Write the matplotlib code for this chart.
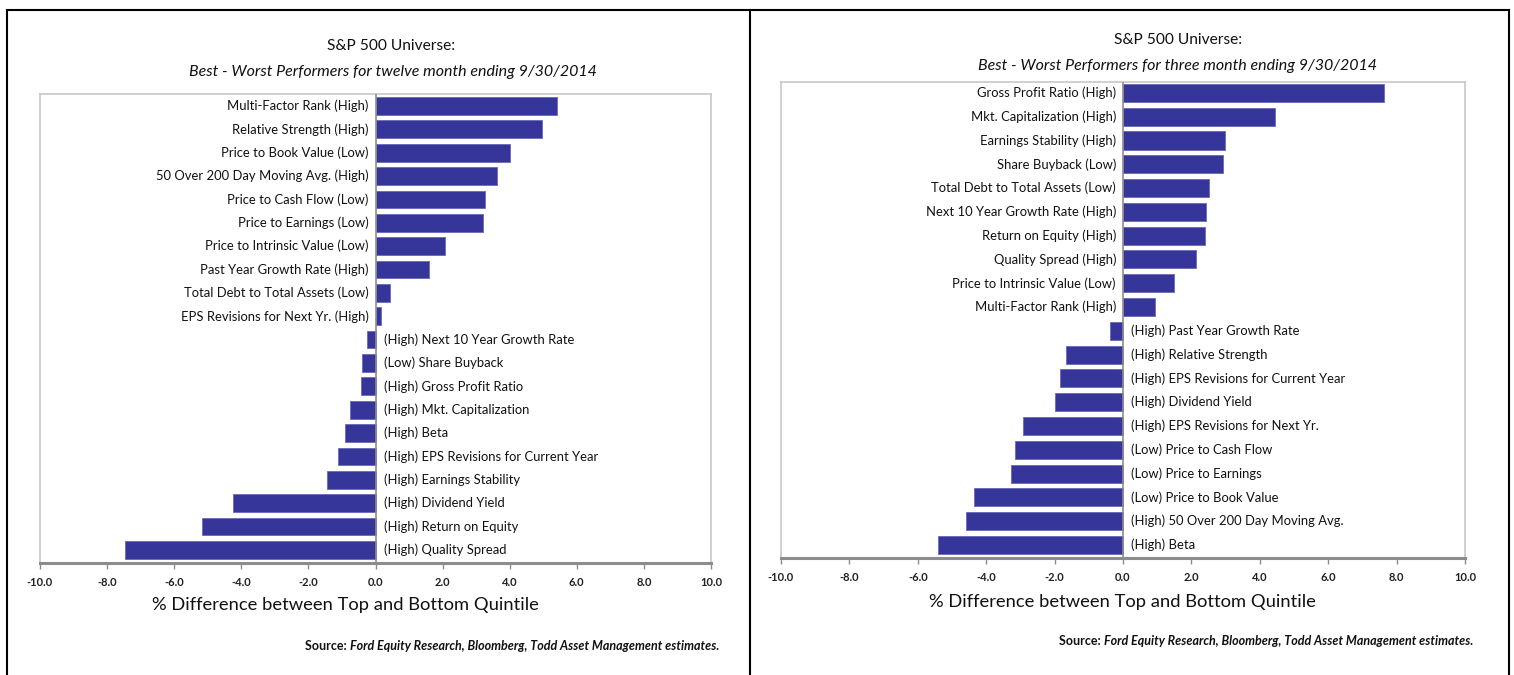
import matplotlib
matplotlib.use('Agg')
import matplotlib.pyplot as plt
import matplotlib.transforms as mtransforms
from matplotlib.lines import Line2D
import numpy as np

plt.rcParams['font.family'] = ['Lato', 'DejaVu Sans']

# twelve month ending 9/30/2014 (top to bottom)
names12 = ['Multi-Factor Rank', 'Relative Strength', 'Price to Book Value',
           '50 Over 200 Day Moving Avg.', 'Price to Cash Flow', 'Price to Earnings',
           'Price to Intrinsic Value', 'Past Year Growth Rate', 'Total Debt to Total Assets',
           'EPS Revisions for Next Yr.', 'Next 10 Year Growth Rate', 'Share Buyback',
           'Gross Profit Ratio', 'Mkt. Capitalization', 'Beta',
           'EPS Revisions for Current Year', 'Earnings Stability', 'Dividend Yield',
           'Return on Equity', 'Quality Spread']
tags12 = ['High', 'High', 'Low', 'High', 'Low', 'Low', 'Low', 'High', 'Low', 'High',
          'High', 'Low', 'High', 'High', 'High', 'High', 'High', 'High', 'High', 'High']
values12 = [5.41, 4.97, 4.01, 3.63, 3.27, 3.19, 2.07, 1.58, 0.43, 0.16,
            -0.25, -0.39, -0.43, -0.75, -0.90, -1.12, -1.46, -4.26, -5.16, -7.47]

# three month ending 9/30/2014
names3 = ['Gross Profit Ratio', 'Mkt. Capitalization', 'Earnings Stability', 'Share Buyback',
          'Total Debt to Total Assets', 'Next 10 Year Growth Rate', 'Return on Equity',
          'Quality Spread', 'Price to Intrinsic Value', 'Multi-Factor Rank',
          'Past Year Growth Rate', 'Relative Strength', 'EPS Revisions for Current Year',
          'Dividend Yield', 'EPS Revisions for Next Yr.', 'Price to Cash Flow',
          'Price to Earnings', 'Price to Book Value', '50 Over 200 Day Moving Avg.', 'Beta']
tags3 = ['High', 'High', 'High', 'Low', 'Low', 'High', 'High', 'High', 'Low', 'High',
         'High', 'High', 'High', 'High', 'High', 'Low', 'Low', 'Low', 'High', 'High']
values3 = [7.64, 4.43, 2.99, 2.91, 2.51, 2.43, 2.41, 2.13, 1.48, 0.93,
           -0.37, -1.67, -1.85, -1.99, -2.91, -3.15, -3.27, -4.37, -4.58, -5.42]

xticks = [-10, -8, -6, -4, -2, 0, 2, 4, 6, 8, 10]

W, H = 1514, 675
fig = plt.figure(figsize=(W / 100, H / 100), dpi=100)

def px(x, y):
    return x / W, 1 - y / H

barcol = '#35359A'

def panel(rect, names, tags, values, ylim):
    ax = fig.add_axes(rect)
    y = np.arange(len(values))
    ax.barh(y, values, height=0.76, color=barcol, edgecolor='#6a6ab8', linewidth=0.6, zorder=2)
    ax.axvline(0, color='#8c8c8c', lw=1.2, zorder=3)
    ax.set_xlim(-10, 10)
    ax.set_ylim(ylim)
    ax.set_yticks([])
    ax.set_xticks(xticks)
    ax.set_xticklabels(['%.1f' % t for t in xticks], fontsize=8, fontweight='bold', color='#222222')
    ax.tick_params(axis='x', length=4, width=1, color='#8c8c8c', pad=6)
    for s in ['top', 'left', 'right']:
        ax.spines[s].set_color('#c8c8c8')
        ax.spines[s].set_linewidth(1.2)
    ax.spines['bottom'].set_color('#8c8c8c')
    ax.spines['bottom'].set_linewidth(2.2)
    left_off = mtransforms.offset_copy(ax.transData, fig=fig, x=-7, y=0, units='dots')
    right_off = mtransforms.offset_copy(ax.transData, fig=fig, x=8, y=0, units='dots')
    for i, (n, t, v) in enumerate(zip(names, tags, values)):
        if v >= 0:
            ax.text(0, i, n + ' (' + t + ')', transform=left_off, ha='right', va='center',
                    fontsize=9.4, color='#111111')
        else:
            ax.text(0, i, '(' + t + ') ' + n, transform=right_off, ha='left', va='center',
                    fontsize=9.4, color='#111111')
    return ax

l, b = px(40, 563)
r, t = px(711, 94)
panel([l, b, r - l, t - b], names12, tags12, values12, (19.56, -0.51))

l, b = px(781, 558)
r, t = px(1465, 82)
panel([l, b, r - l, t - b], names3, tags3, values3, (19.55, -0.46))

# titles
fig.text(*px(391, 46), 'S&P 500 Universe:', ha='center', va='center', fontsize=11.2, color='#111111')
fig.text(*px(393, 72), 'Best - Worst Performers for twelve month ending 9/30/2014', ha='center',
         va='center', fontsize=11.5, style='italic', color='#111111')
fig.text(*px(1178, 40), 'S&P 500 Universe:', ha='center', va='center', fontsize=11.2, color='#111111')
fig.text(*px(1178, 66), 'Best - Worst Performers for three month ending 9/30/2014', ha='center',
         va='center', fontsize=11.5, style='italic', color='#111111')

# axis labels
fig.text(*px(345, 605), '% Difference between Top and Bottom Quintile', ha='center', va='center',
         fontsize=13.2, color='#111111')
fig.text(*px(1122, 602), '% Difference between Top and Bottom Quintile', ha='center', va='center',
         fontsize=13.2, color='#111111')

# source notes
def source(x, y):
    tx = fig.text(*px(x, y), 'Ford Equity Research, Bloomberg, Todd Asset Management estimates.',
                  ha='right', va='center', fontsize=9, fontweight='bold', style='italic', color='#111111')
    fig.canvas.draw()
    bb = tx.get_window_extent()
    fig.text(bb.x0 / W, 1 - y / H, 'Source: ', ha='right', va='center', fontsize=9,
             fontweight='bold', color='#111111')

source(719, 646)
source(1473, 641)

# panel borders
for xs, ys in [([7, 7], [10, 675]), ([750, 750], [10, 675]), ([1509, 1509], [10, 675]),
               ([7, 1509], [10, 10])]:
    fig.add_artist(Line2D([x / W for x in xs], [1 - v / H for v in ys], color='black', lw=1.5,
                          transform=fig.transFigure))

fig.savefig('out.png', dpi=100)
